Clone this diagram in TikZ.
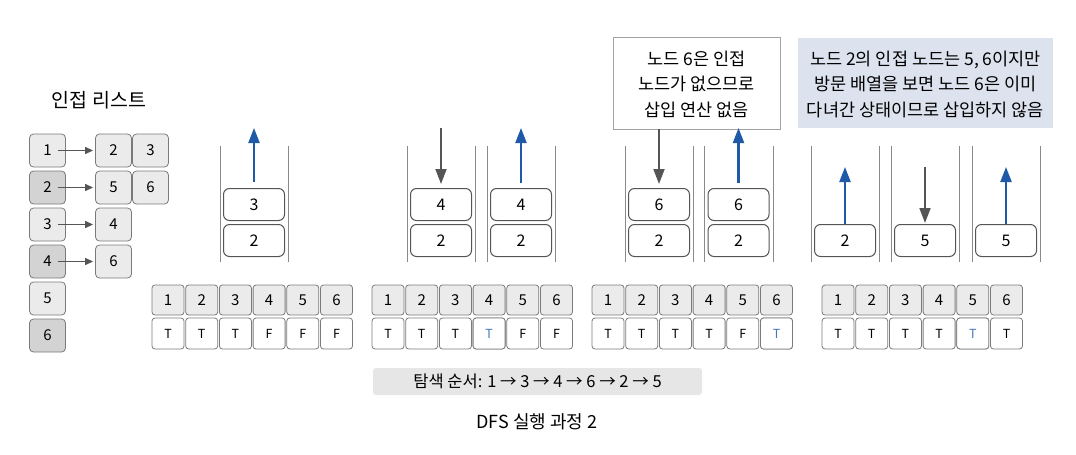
\documentclass[tikz,border=0pt]{standalone}
\usepackage{fontspec}
\setmainfont{Noto Sans CJK KR}
\usetikzlibrary{arrows.meta}
\definecolor{bord}{HTML}{7A7A7A}
\definecolor{lg}{HTML}{EBEBEB}
\definecolor{dg}{HTML}{D3D3D3}
\definecolor{blu}{HTML}{1E5AA8}
\definecolor{ark}{HTML}{555555}
\definecolor{callbg}{HTML}{DDE3EE}
\definecolor{barbg}{HTML}{E6E6E6}
\definecolor{tblue}{HTML}{4A78B8}
\definecolor{wall}{HTML}{8A8A8A}
\tikzset{
  adj/.style={draw=bord, rounded corners=4pt, minimum width=36pt, minimum height=33pt, inner sep=0pt, font=\fontsize{15}{15}\selectfont, line width=0.8pt},
  sbox/.style={draw=ark, rounded corners=6pt, fill=white, minimum width=61pt, minimum height=32pt, inner sep=0pt, font=\fontsize{16}{16}\selectfont, line width=1pt},
  hcell/.style={draw=bord, fill=lg, rounded corners=3pt, minimum width=32pt, minimum height=30pt, inner sep=0pt, font=\fontsize{15}{15}\selectfont, line width=0.8pt},
  vcell/.style={draw=bord, fill=white, rounded corners=3pt, minimum width=32pt, minimum height=31pt, inner sep=0pt, font=\fontsize{12.5}{12.5}\selectfont, line width=0.8pt},
  wallline/.style={draw=wall, line width=0.8pt},
  adjarrow/.style={draw=ark, line width=1.2pt, -{Triangle[length=8pt,width=7pt]}},
  uparrow/.style={draw=blu, line width=2.2pt, -{Triangle[length=15pt,width=11pt]}},
  downarrow/.style={draw=ark, line width=1.8pt, -{Triangle[length=15pt,width=11pt]}},
  txt/.style={font=\fontsize{17.5}{25.5}\selectfont, align=center, inner sep=0pt},
}
\begin{document}
\begin{tikzpicture}[x=1pt,y=-1pt]
\useasboundingbox (0,0) rectangle (1076,455);
% title
\node[font=\fontsize{19.5}{19.5}\selectfont] (title) at (99,100) {인접 리스트};
% adjacency list
\foreach \i/\f in {1/lg,2/dg,3/lg,4/dg,5/lg,6/dg}{
  \node[adj, fill=\f] (l\i) at (47.5,{150.5+37*(\i-1)}) {\i};
}
\node[adj, fill=lg] (r1a) at (113.5,150.5) {2};
\node[adj, fill=lg] (r1b) at (150.5,150.5) {3};
\node[adj, fill=lg] (r2a) at (113.5,187.5) {5};
\node[adj, fill=lg] (r2b) at (150.5,187.5) {6};
\node[adj, fill=lg] (r3a) at (113.5,224.5) {4};
\node[adj, fill=lg] (r4a) at (113.5,261.5) {6};
\foreach \i/\r in {1/r1a,2/r2a,3/r3a,4/r4a}{
  \draw[adjarrow] ([xshift=10pt]l\i.center) -- ([xshift=-2pt]\r.west);
}
% stacks walls
\foreach \a/\b in {220/288,407/475,487/555,625/693,704/773,811/879,891/959,972/1040}{
  \draw[wallline] (\a,146) -- (\a,262);
  \draw[wallline] (\b,146) -- (\b,262);
}
% stack boxes
\node[sbox] (s1t) at (254,204.5) {3};
\node[sbox] (s1b) at (254,240.5) {2};
\node[sbox] (s2t) at (441,204.5) {4};
\node[sbox] (s2b) at (441,240.5) {2};
\node[sbox] (s3t) at (521,204.5) {4};
\node[sbox] (s3b) at (521,240.5) {2};
\node[sbox] (s4t) at (659,204.5) {6};
\node[sbox] (s4b) at (659,240.5) {2};
\node[sbox] (s5t) at (738.5,204.5) {6};
\node[sbox] (s5b) at (738.5,240.5) {2};
\node[sbox] (s6b) at (845,240.5) {2};
\node[sbox] (s7b) at (925,240.5) {5};
\node[sbox] (s8b) at (1006,240.5) {5};
% callouts
\node[draw=bord!70, fill=white, minimum width=167pt, minimum height=92pt, inner sep=0pt, line width=0.8pt] (c1) at (696.5,83) {};
\node[txt] (c1t) at (696.5,84) {노드 6은 인접\\노드가 없으므로\\삽입 연산 없음};
\node[fill=callbg, minimum width=255pt, minimum height=90pt, inner sep=0pt] (c2) at (925.5,83) {};
\node[txt] (c2t) at (925.5,84) {노드 2의 인접 노드는 5, 6이지만\\방문 배열을 보면 노드 6은 이미\\다녀간 상태이므로 삽입하지 않음};
% arrow coordinates
\coordinate (a1) at (254,128);
\coordinate (a2) at (441,128);
\coordinate (a3) at (521,128);
\coordinate (a5) at (738.5,128);
\coordinate (a6) at (845,167);
\coordinate (a7) at (925,167);
\coordinate (a8) at (1006,167);
\draw[uparrow] ([yshift=6pt]s1t.north) -- (a1);
\draw[downarrow] (a2) -- ([yshift=4pt]s2t.north);
\draw[uparrow] ([yshift=5pt]s3t.north) -- (a3);
\draw[downarrow] (c1.south -| s4t.north) -- ([yshift=4pt]s4t.north);
\draw[uparrow] ([yshift=5pt]s5t.north) -- (a5);
\draw[uparrow] (s6b.north) -- (a6);
\draw[downarrow] (a7) -- ([yshift=1pt]s7b.north);
\draw[uparrow] (s8b.north) -- (a8);
% arrays
\foreach \k/\x/\vals in {1/152/{T,T,T,F,F,F},2/372/{T,T,T,T,F,F},3/592/{T,T,T,T,F,T},4/822/{T,T,T,T,T,T}}{
  \foreach \v [count=\j] in \vals {
    \node[hcell] (h\k-\j) at ({\x+16+33.7*(\j-1)},300) {\j};
    \node[vcell] (v\k-\j) at ({\x+16+33.7*(\j-1)},333.5) {\v};
  }
}
\node[vcell, text=tblue] at (v2-4) {T};
\node[vcell, text=tblue] at (v3-6) {T};
\node[vcell, text=tblue] at (v4-5) {T};
% bar and caption
\node[fill=barbg, rounded corners=3pt, minimum width=329pt, minimum height=27pt, inner sep=0pt] (bar) at (537.5,381.5) {};
\node[font=\fontsize{16.5}{16.5}\selectfont] (bart) at (537.5,381.5) {탐색 순서: 1 → 3 → 4 → 6 → 2 → 5};
\node[font=\fontsize{18}{18}\selectfont] (cap) at (537,422) {DFS 실행 과정 2};
\end{tikzpicture}
\end{document}
